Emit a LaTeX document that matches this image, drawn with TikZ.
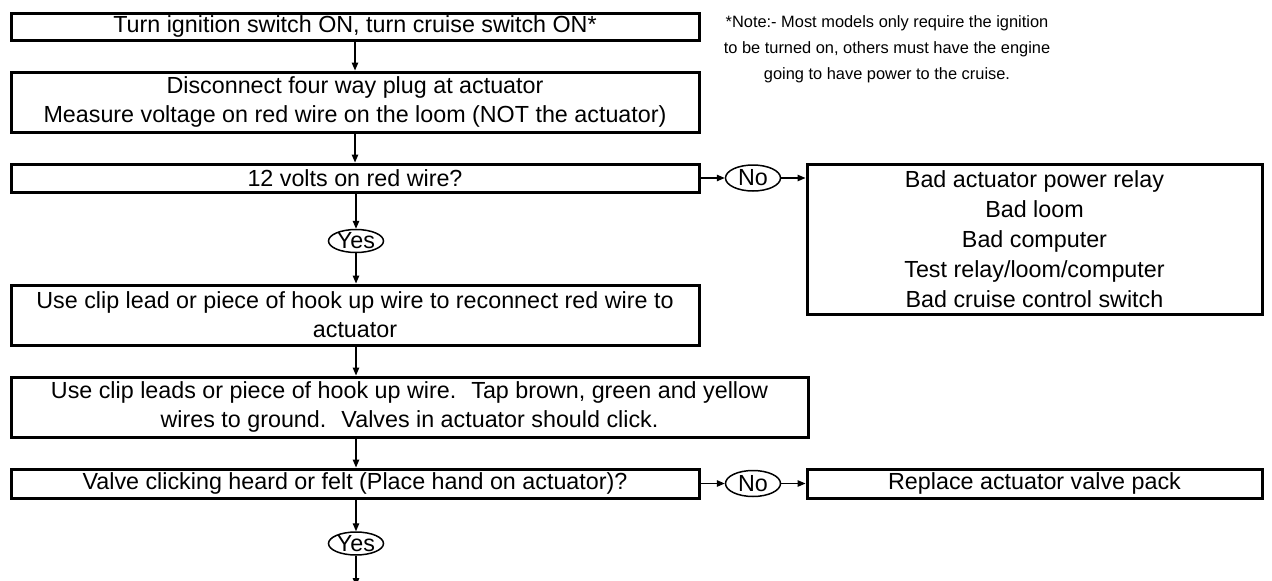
\documentclass[tikz,border=0pt]{standalone}
\usepackage{fontspec}
\setmainfont{Liberation Sans}
\usetikzlibrary{arrows.meta,shapes.geometric}
\begin{document}
\begin{tikzpicture}[x=1pt,y=-1pt,
  txt/.style={font=\fontsize{23.3}{29}\selectfont, align=center, inner sep=0pt},
  bigtxt/.style={font=\fontsize{23.3}{30}\selectfont, align=center, inner sep=0pt},
  notetxt/.style={font=\fontsize{16.4}{26}\selectfont, align=center, inner sep=0pt},
  boxline/.style={draw=black, line width=3pt, inner sep=0pt},
  decide/.style={ellipse, draw=black, line width=1.5pt, inner sep=0pt, minimum width=55pt, minimum height=20pt, font=\fontsize{23.3}{28}\selectfont},
  decideno/.style={decide, minimum height=26pt},
  arr/.style={line width=1.3pt, -{Triangle[length=8pt,width=6.5pt]}}]
\useasboundingbox (0,0) rectangle (1272,581);
\fill[white] (0,0) rectangle (1272,581);
% boxes
\node[boxline, minimum width=688pt, minimum height=27pt] (b1) at (355,26.5) {};
\node[txt] at (b1) {Turn ignition switch ON, turn cruise switch ON*};
\node[boxline, minimum width=688pt, minimum height=60pt] (b2) at (355,102) {};
\node[txt] at (b2) {Disconnect four way plug at actuator\\Measure voltage on red wire on the loom (NOT the actuator)};
\node[boxline, minimum width=688pt, minimum height=28pt] (b3) at (355,178) {};
\node[txt] at (b3) {12 volts on red wire?};
\node[decide] (yes1) at (356,241) {Yes};
\node[boxline, minimum width=688pt, minimum height=60pt] (b4) at (355,315) {};
\node[txt] at (b4) {Use clip lead or piece of hook up wire to reconnect red wire to\\actuator};
\node[boxline, minimum width=797pt, minimum height=60pt] (b5) at (409.5,407) {};
\node[txt] at (b5) {Use clip leads or piece of hook up wire.~ Tap brown, green and yellow\\wires to ground.~ Valves in actuator should click.};
\node[boxline, minimum width=688pt, minimum height=29pt] (b6) at (355,483.5) {};
\node[txt] at (b6) {Valve clicking heard or felt (Place hand on actuator)?};
\node[decide] (yes2) at (356,543.5) {Yes};
\node[decideno] (no1) at (753,178) {No};
\node[decideno] (no2) at (753,483.5) {No};
\node[boxline, minimum width=455pt, minimum height=150pt] (big) at (1034.5,239) {};
\node[bigtxt] at (big) {Bad actuator power relay\\Bad loom\\Bad computer\\Test relay/loom/computer\\Bad cruise control switch};
\node[boxline, minimum width=455pt, minimum height=29pt] (rep) at (1034.5,483.5) {};
\node[txt] at (rep) {Replace actuator valve pack};
\node[notetxt] (note) at (887,49) {*Note:- Most models only require the ignition\\to be turned on, others must have the engine\\going to have power to the cruise.};
\coordinate (end) at (356,586);
% connectors
\draw[arr] (b1.south) -- (b2.north);
\draw[arr] (b2.south) -- (b3.north);
\draw[arr] (b3.south -| yes1) -- (yes1.north);
\draw[arr] (yes1.south) -- (yes1.south |- b4.north);
\draw[arr] (b4.south -| yes1) -- (yes1 |- b5.north);
\draw[arr] (b5.south -| yes1) -- (yes1 |- b6.north);
\draw[arr] (b6.south -| yes2) -- (yes2.north);
\draw[arr] (yes2.south) -- (end);
\draw[arr] (b3.east) -- (no1.west);
\draw[arr] (no1.east) -- (no1.east -| big.west);
\draw[arr] (b6.east) -- (no2.west);
\draw[arr] (no2.east) -- (rep.west);
\end{tikzpicture}
\end{document}
